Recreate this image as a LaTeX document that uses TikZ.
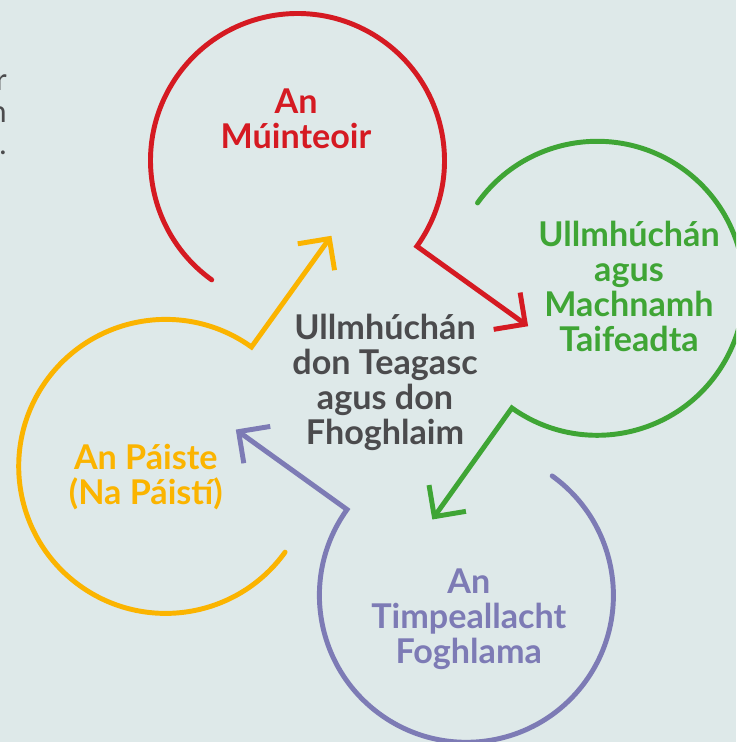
\documentclass[tikz,border=0pt]{standalone}
\usepackage{fontspec}
\setmainfont{Lato}
\usetikzlibrary{arrows.meta}
\definecolor{bgcol}{HTML}{DEE9E9}
\definecolor{munred}{HTML}{D51A22}
\definecolor{ullgreen}{HTML}{3FA535}
\definecolor{paistyellow}{HTML}{FBB400}
\definecolor{timpurple}{HTML}{7D7BB5}
\definecolor{centgray}{HTML}{4B4B4D}
\tikzset{
	ringline/.style={line width=3.7pt, line cap=round, line join=miter, -{Straight Barb[length=17pt,width=34pt]}},
	ringtext/.style={font=\fontsize{25.6}{26.3}\selectfont\bfseries, align=center, anchor=base, inner sep=0pt},
	sidetext/.style={font=\fontsize{23}{24}\selectfont, text=centgray, align=right, anchor=base east, inner sep=0pt}
}
\begin{document}
\begin{tikzpicture}[x=0.75pt,y=0.75pt]
	\useasboundingbox (0,0) rectangle (736,742);
	\fill[bgcol] (0,0) rectangle (736,742);
	\clip (0,0) rectangle (736,742);
	% centres of the four rings
	\coordinate (teacher) at (297.5,581.5);
	\coordinate (reflect) at (597.2,453.7);
	\coordinate (environ) at (466.4,146.7);
	\coordinate (child) at (165.7,275.6);
	% arrow tips
	\path (teacher) ++(-35.7:284) coordinate (teachertip);
	\path (reflect) ++(-125.5:284) coordinate (reflecttip);
	\path (environ) ++(144.3:284) coordinate (environtip);
	\path (child) ++(54.3:284) coordinate (childtip);
	
	\draw[ringline,munred] (teacher) ++(234.3:147) arc[start angle=234.3, end angle=-35.7, radius=147] -- (teachertip);
	\draw[ringline,ullgreen] (reflect) ++(144.5:147) arc[start angle=144.5, end angle=-125.5, radius=147] -- (reflecttip);
	\draw[ringline,timpurple] (environ) ++(54.3:147) arc[start angle=54.3, end angle=-215.7, radius=147] -- (environtip);
	\draw[ringline,paistyellow] (child) ++(-35.7:147) arc[start angle=-35.7, end angle=-305.7, radius=147] -- (childtip);
	
	% base of a node sits on its last line
	\node[ringtext,munred] (teachertext) at (296,593) {An\\Múinteoir};
	\node[ringtext,ullgreen] (reflecttext) at (629,390.3) {Ullmhúchán\\agus\\Machnamh\\Taifeadta};
	\node[ringtext,timpurple] (environtext) at (468.8,78.7) {An\\Timpeallacht\\Foghlama};
	\node[ringtext,paistyellow] (childtext) at (145.8,237) {An Páiste\\(Na Páistí)};
	\node[ringtext,centgray] (centretext) at (385,297) {Ullmhúchán\\don Teagasc\\agus don\\Fhoghlaim};
	
	\node[sidetext] (sidenote) at (7,587.7) {r\\n\\l.};
\end{tikzpicture}
\end{document}
